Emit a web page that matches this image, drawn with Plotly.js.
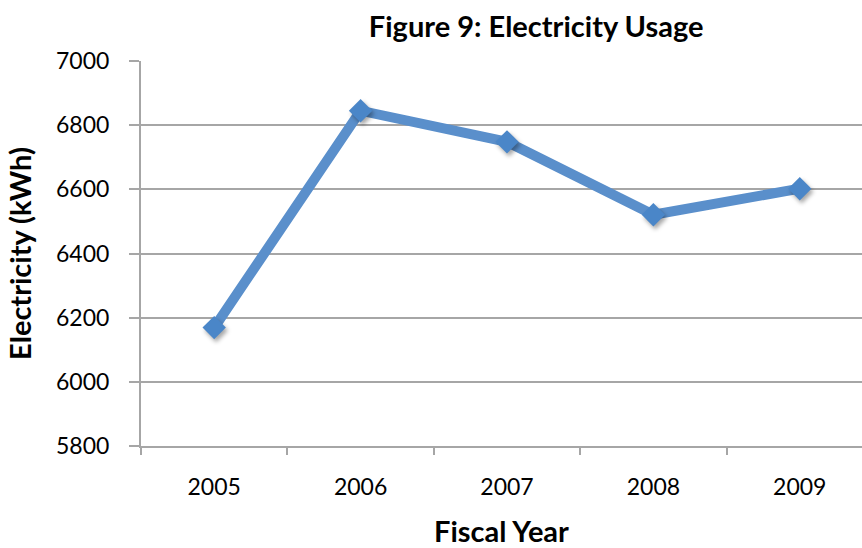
<!DOCTYPE html>
<html>
<head>
<meta charset="utf-8">
<script src="https://cdn.plot.ly/plotly-3.0.1.min.js"></script>
<style>
  html, body { margin: 0; padding: 0; background: #fff; }
  #chart { width: 862px; height: 548px; }
  /* soft drop shadow under the diamond markers */
  .scatterlayer .points path { filter: drop-shadow(2px 3px 2px rgba(0,0,0,0.35)); }
</style>
</head>
<body>
<div id="chart"></div>
<script>
// Annual electricity consumption by fiscal year
const fiscalYears = ['2005', '2006', '2007', '2008', '2009'];
const electricityKWh = [6169, 6845, 6748, 6521, 6602];
const yTickValues = [5800, 6000, 6200, 6400, 6600, 6800, 7000];

const lineBlue = '#5A8FCB';
const gridGray = '#A6A6A6';
const fontFamily = 'Lato, "Open Sans", "DejaVu Sans", sans-serif';

const trace = {
  type: 'scatter',
  mode: 'lines+markers',
  x: fiscalYears,
  y: electricityKWh,
  line: { color: lineBlue, width: 10 },
  marker: { symbol: 'diamond', size: 18, color: '#4A86C8', line: { width: 0 } },
  hoverinfo: 'x+y'
};

const layout = {
  width: 862,
  height: 548,
  paper_bgcolor: '#ffffff',
  plot_bgcolor: '#ffffff',
  margin: { l: 141, r: 0, t: 61, b: 102 },
  showlegend: false,
  font: { family: fontFamily, color: '#000000' },
  title: {
    text: 'Figure 9: Electricity Usage',
    font: { family: fontFamily, size: 29, weight: 'bold', color: '#000000' },
    xref: 'container', yref: 'container',
    x: 0.622, xanchor: 'center',
    y: 0.951, yanchor: 'middle'
  },
  xaxis: {
    type: 'category',
    range: [-0.5, 4.425],
    tickson: 'boundaries',
    ticks: 'outside',
    ticklen: 7,
    tickwidth: 2,
    tickcolor: gridGray,
    showgrid: false,
    showline: true,
    linecolor: gridGray,
    linewidth: 2,
    zeroline: false,
    tickfont: { family: fontFamily, size: 23, color: '#000000' },
    ticklabelstandoff: 19,
    title: {
      text: 'Fiscal Year',
      font: { family: fontFamily, size: 29, weight: 'bold', color: '#000000' },
      standoff: 26
    },
    fixedrange: true
  },
  yaxis: {
    range: [5800, 7000],
    tickmode: 'array',
    tickvals: yTickValues,
    ticktext: yTickValues.map(String),
    ticks: 'outside',
    ticklen: 10,
    tickwidth: 2,
    tickcolor: gridGray,
    showgrid: true,
    gridcolor: gridGray,
    gridwidth: 2,
    showline: true,
    linecolor: gridGray,
    linewidth: 2,
    zeroline: false,
    tickfont: { family: fontFamily, size: 23, color: '#000000' },
    ticklabelstandoff: 15,
    title: {
      text: 'Electricity (kWh)',
      font: { family: fontFamily, size: 29, weight: 'bold', color: '#000000' },
      standoff: 16
    },
    fixedrange: true
  }
};

Plotly.newPlot('chart', [trace], layout, { displayModeBar: false, staticPlot: true });
</script>
</body>
</html>
